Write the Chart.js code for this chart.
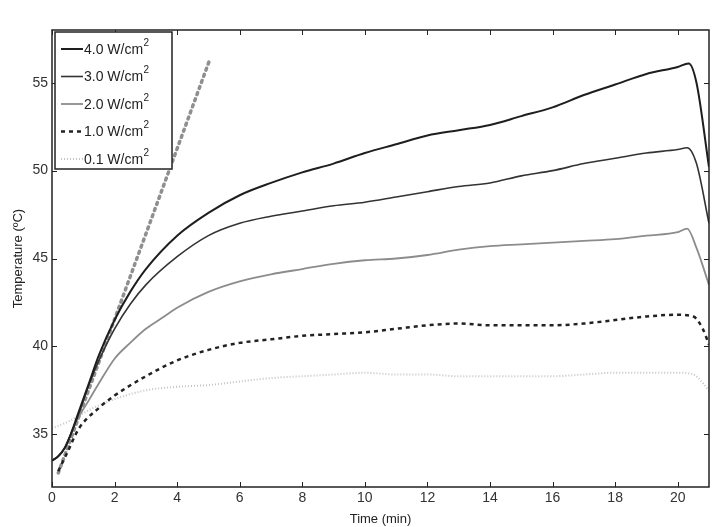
<!DOCTYPE html>
<html>
<head>
<meta charset="utf-8">
<script src="https://cdn.jsdelivr.net/npm/chart.js@4"></script>
<style>
  html, body { margin: 0; padding: 0; background: #fff; }
  #wrap { width: 715px; height: 527px; }
</style>
</head>
<body>
<div id="wrap"><canvas id="grafico"></canvas></div>
<script>
// DADOS (tempo em min, temperatura em oC)
const tempo4 = [0, 0.2, 0.4, 0.6, 0.8, 1.2, 1.5, 2, 2.5, 3, 4, 5, 6, 7, 8, 9, 10, 11, 12, 13, 14, 15, 16, 17, 18, 19, 20, 20.35, 20.6, 21];
const temp4  = [33.5, 33.75, 34.2, 35.0, 36.0, 38.0, 39.5, 41.5, 43.1, 44.4, 46.3, 47.6, 48.6, 49.3, 49.9, 50.4, 51.0, 51.5, 52.0, 52.3, 52.6, 53.1, 53.6, 54.3, 54.9, 55.5, 55.9, 56.1, 55.0, 50.2];

const tempo3 = [0, 0.2, 0.4, 0.6, 0.8, 1.2, 1.5, 2, 2.5, 3, 4, 5, 6, 7, 8, 9, 10, 11, 12, 13, 14, 15, 16, 17, 18, 19, 20, 20.3, 20.6, 21];
const temp3  = [33.5, 33.75, 34.2, 35.0, 35.9, 37.9, 39.2, 41.0, 42.4, 43.5, 45.1, 46.3, 47.0, 47.4, 47.7, 48.0, 48.2, 48.5, 48.8, 49.1, 49.3, 49.7, 50.0, 50.4, 50.7, 51.0, 51.2, 51.3, 50.4, 47.0];

const tempo2 = [0, 0.2, 0.4, 0.6, 0.8, 1.2, 1.5, 2, 2.5, 3, 3.5, 4, 5, 6, 7, 8, 9, 10, 11, 12, 13, 14, 15, 16, 17, 18, 19, 20, 20.3, 20.6, 21];
const temp2  = [33.5, 33.75, 34.2, 35.0, 35.8, 37.0, 37.9, 39.3, 40.2, 41.0, 41.6, 42.2, 43.1, 43.7, 44.1, 44.4, 44.7, 44.9, 45.0, 45.2, 45.5, 45.7, 45.8, 45.9, 46.0, 46.1, 46.3, 46.5, 46.7, 45.6, 43.5];

const tempo1 = [0.2, 0.5, 0.85, 1.5, 2, 3, 4, 5, 6, 7, 8, 9, 10, 11, 12, 13, 14, 15, 16, 17, 18, 19, 20, 20.5, 20.8, 21];
const temp1  = [32.9, 34.0, 35.3, 36.5, 37.2, 38.3, 39.2, 39.8, 40.2, 40.4, 40.6, 40.7, 40.8, 41.0, 41.2, 41.3, 41.2, 41.2, 41.2, 41.3, 41.5, 41.7, 41.8, 41.7, 41.0, 40.1];

const tempo01 = [0, 0.5, 1, 1.5, 2, 3, 4, 5, 6, 7, 8, 9, 10, 11, 12, 13, 14, 15, 16, 17, 18, 19, 20, 20.5, 21];
const temp01  = [35.35, 35.7, 36.2, 36.65, 37.0, 37.5, 37.7, 37.8, 38.0, 38.2, 38.3, 38.4, 38.5, 38.4, 38.4, 38.3, 38.3, 38.3, 38.3, 38.4, 38.5, 38.5, 38.5, 38.4, 37.5];

// reta pontilhada (taxa inicial)
const tempoReta = [0.2, 5.06];
const tempReta  = [32.8, 56.4];

const rotulos = ['4.0 W/cm', '3.0 W/cm', '2.0 W/cm', '1.0 W/cm', '0.1 W/cm'];
const ticksX = [0, 2, 4, 6, 8, 10, 12, 14, 16, 18, 20];
const ticksY = [35, 40, 45, 50, 55];

const pares = (xs, ys) => xs.map((x, i) => ({x: x, y: ys[i]}));

const fonte = "'Liberation Sans', Arial, Helvetica, sans-serif";

//PLUGIN: caixa, ticks para dentro e legenda com sobrescrito
const moldura = {
  id: 'moldura',
  afterDraw(chart) {
    const ctx = chart.ctx;
    const a = chart.chartArea;
    const sx = chart.scales.x, sy = chart.scales.y;
    ctx.save();
    ctx.strokeStyle = '#222';
    ctx.lineWidth = 1.5;
    ctx.strokeRect(a.left, a.top, a.right - a.left, a.bottom - a.top);
    ctx.lineWidth = 1;
    const t = 5;
    ticksX.forEach(v => {
      const px = Math.round(sx.getPixelForValue(v)) + 0.5;
      ctx.beginPath();
      ctx.moveTo(px, a.bottom); ctx.lineTo(px, a.bottom - t);
      ctx.moveTo(px, a.top); ctx.lineTo(px, a.top + t);
      ctx.stroke();
    });
    ticksY.forEach(v => {
      const py = Math.round(sy.getPixelForValue(v)) + 0.5;
      ctx.beginPath();
      ctx.moveTo(a.left, py); ctx.lineTo(a.left + t, py);
      ctx.moveTo(a.right, py); ctx.lineTo(a.right - t, py);
      ctx.stroke();
    });

    // legenda
    const lx = a.left + 3, ly = a.top + 2, lw = 117, lh = 137;
    ctx.fillStyle = '#fff';
    ctx.fillRect(lx, ly, lw, lh);
    ctx.strokeStyle = '#222';
    ctx.lineWidth = 1.5;
    ctx.strokeRect(lx, ly, lw, lh);
    const ds = chart.data.datasets;
    for (let i = 0; i < rotulos.length; i++) {
      const d = ds[i];
      const y = ly + 17 + i * 27.5;
      ctx.beginPath();
      ctx.strokeStyle = d.borderColor;
      ctx.lineWidth = d.borderWidth;
      ctx.setLineDash(d.borderDash || []);
      ctx.moveTo(lx + 6, y);
      ctx.lineTo(lx + 28, y);
      ctx.stroke();
      ctx.setLineDash([]);
      ctx.fillStyle = '#222';
      ctx.font = '14px ' + fonte;
      ctx.textBaseline = 'middle';
      ctx.textAlign = 'left';
      ctx.fillText(rotulos[i], lx + 29, y + 1);
      const w = ctx.measureText(rotulos[i]).width;
      ctx.font = '10px ' + fonte;
      ctx.fillText('2', lx + 29 + w + 0.5, y - 6);
    }
    ctx.restore();
  }
};

const ctx = document.getElementById('grafico').getContext('2d');
const grafico = new Chart(ctx, {
  type: 'line',
  data: {
    datasets: [
      { label: rotulos[0], data: pares(tempo4, temp4), borderColor: '#1e1e1e', borderWidth: 2, pointRadius: 0, cubicInterpolationMode: 'monotone' },
      { label: rotulos[1], data: pares(tempo3, temp3), borderColor: '#333', borderWidth: 1.6, pointRadius: 0, cubicInterpolationMode: 'monotone' },
      { label: rotulos[2], data: pares(tempo2, temp2), borderColor: '#8c8c8c', borderWidth: 1.8, pointRadius: 0, cubicInterpolationMode: 'monotone' },
      { label: rotulos[3], data: pares(tempo1, temp1), borderColor: '#222', borderWidth: 2.5, borderDash: [4, 4], pointRadius: 0, cubicInterpolationMode: 'monotone' },
      { label: rotulos[4], data: pares(tempo01, temp01), borderColor: '#c4c4c4', borderWidth: 2, borderDash: [1, 2], pointRadius: 0, cubicInterpolationMode: 'monotone' },
      { label: 'reta', data: pares(tempoReta, tempReta), borderColor: '#8f8f8f', borderWidth: 3.5, borderDash: [2, 4.5], borderCapStyle: 'round', pointRadius: 0 }
    ]
  },
  options: {
    responsive: true,
    maintainAspectRatio: false,
    animation: false,
    layout: { padding: { left: 0, right: 6, top: 30, bottom: 0 } },
    plugins: { legend: { display: false }, tooltip: { enabled: false } },
    scales: {
      x: {
        type: 'linear',
        min: 0, max: 21,
        afterBuildTicks: s => { s.ticks = ticksX.map(v => ({value: v})); },
        afterFit: s => { s.height = 40; },
        grid: { display: false, drawTicks: false },
        border: { display: false },
        ticks: { color: '#333', font: { family: fonte, size: 14 }, padding: 3, maxRotation: 0 },
        title: { display: true, text: 'Time (min)', color: '#222', font: { family: fonte, size: 13 }, padding: { top: 0, bottom: 0 } }
      },
      y: {
        type: 'linear',
        min: 32, max: 58,
        afterBuildTicks: s => { s.ticks = ticksY.map(v => ({value: v})); },
        afterFit: s => { s.width = 52; },
        grid: { display: false, drawTicks: false },
        border: { display: false },
        ticks: { color: '#333', font: { family: fonte, size: 14 }, padding: 4 },
        title: { display: true, text: 'Temperature (\u00BAC)', color: '#222', font: { family: fonte, size: 13 }, padding: { top: 11, bottom: 0 } }
      }
    }
  },
  plugins: [moldura]
});
</script>
</body>
</html>
